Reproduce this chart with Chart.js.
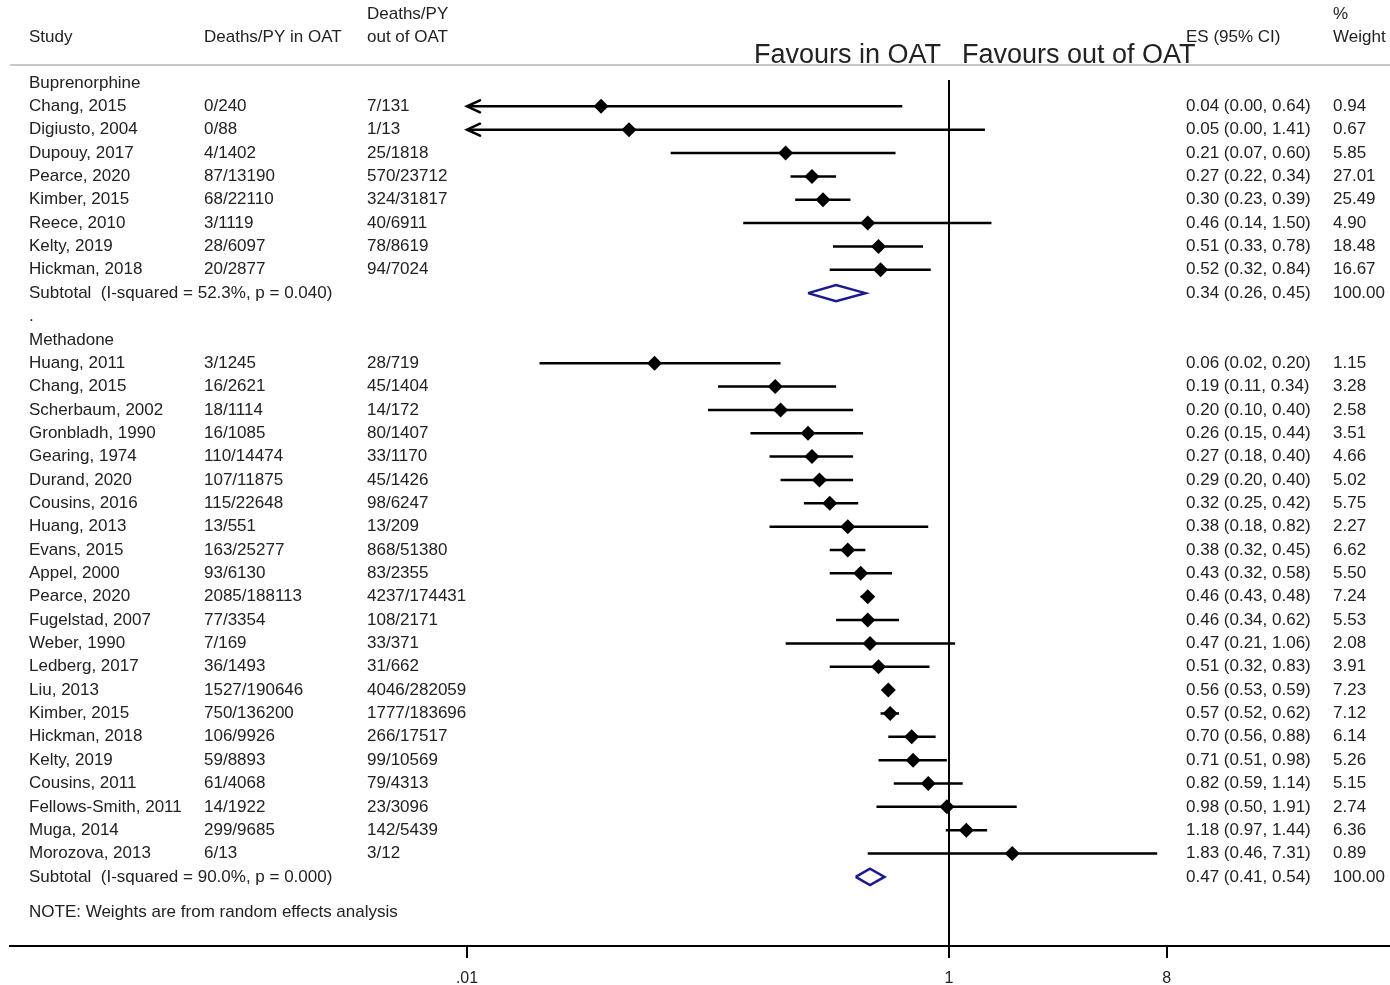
<!DOCTYPE html>
<html lang="en">
<head>
    <meta charset="UTF-8">
    <title>Forest plot - deaths in and out of OAT</title>
    <script src="https://cdn.jsdelivr.net/npm/chart.js"></script>
    <style>
        body { margin: 0; background: #fff; }
        canvas { display: block; }
    </style>
</head>
<body>
    <canvas id="forestChart" width="1390" height="985"></canvas>

    <script>
        // Buprenorphine studies
        const bupStudy = ["Chang, 2015", "Digiusto, 2004", "Dupouy, 2017", "Pearce, 2020", "Kimber, 2015", "Reece, 2010", "Kelty, 2019", "Hickman, 2018"];
        const bupInOAT = ["0/240", "0/88", "4/1402", "87/13190", "68/22110", "3/1119", "28/6097", "20/2877"];
        const bupOutOAT = ["7/131", "1/13", "25/1818", "570/23712", "324/31817", "40/6911", "78/8619", "94/7024"];
        const bupES = [0.036, 0.047, 0.21, 0.27, 0.30, 0.46, 0.51, 0.52];
        const bupLo = [0.00, 0.00, 0.07, 0.22, 0.23, 0.14, 0.33, 0.32];
        const bupHi = [0.64, 1.41, 0.60, 0.34, 0.39, 1.50, 0.78, 0.84];
        const bupWeight = [0.94, 0.67, 5.85, 27.01, 25.49, 4.90, 18.48, 16.67];
        const bupSubLabel = "Subtotal  (I-squared = 52.3%, p = 0.040)";
        const bupSub = [0.34, 0.26, 0.45];   // ES, lower, upper

        // Methadone studies
        const metStudy = ["Huang, 2011", "Chang, 2015", "Scherbaum, 2002", "Gronbladh, 1990", "Gearing, 1974", "Durand, 2020", "Cousins, 2016", "Huang, 2013", "Evans, 2015", "Appel, 2000", "Pearce, 2020", "Fugelstad, 2007", "Weber, 1990", "Ledberg, 2017", "Liu, 2013", "Kimber, 2015", "Hickman, 2018", "Kelty, 2019", "Cousins, 2011", "Fellows-Smith, 2011", "Muga, 2014", "Morozova, 2013"];
        const metInOAT = ["3/1245", "16/2621", "18/1114", "16/1085", "110/14474", "107/11875", "115/22648", "13/551", "163/25277", "93/6130", "2085/188113", "77/3354", "7/169", "36/1493", "1527/190646", "750/136200", "106/9926", "59/8893", "61/4068", "14/1922", "299/9685", "6/13"];
        const metOutOAT = ["28/719", "45/1404", "14/172", "80/1407", "33/1170", "45/1426", "98/6247", "13/209", "868/51380", "83/2355", "4237/174431", "108/2171", "33/371", "31/662", "4046/282059", "1777/183696", "266/17517", "99/10569", "79/4313", "23/3096", "142/5439", "3/12"];
        const metES = [0.06, 0.19, 0.20, 0.26, 0.27, 0.29, 0.32, 0.38, 0.38, 0.43, 0.46, 0.46, 0.47, 0.51, 0.56, 0.57, 0.70, 0.71, 0.82, 0.98, 1.18, 1.83];
        const metLo = [0.02, 0.11, 0.10, 0.15, 0.18, 0.20, 0.25, 0.18, 0.32, 0.32, 0.43, 0.34, 0.21, 0.32, 0.53, 0.52, 0.56, 0.51, 0.59, 0.50, 0.97, 0.46];
        const metHi = [0.20, 0.34, 0.40, 0.44, 0.40, 0.40, 0.42, 0.82, 0.45, 0.58, 0.48, 0.62, 1.06, 0.83, 0.59, 0.62, 0.88, 0.98, 1.14, 1.91, 1.44, 7.31];
        const metWeight = [1.15, 3.28, 2.58, 3.51, 4.66, 5.02, 5.75, 2.27, 6.62, 5.50, 7.24, 5.53, 2.08, 3.91, 7.23, 7.12, 6.14, 5.26, 5.15, 2.74, 6.36, 0.89];
        const metSubLabel = "Subtotal  (I-squared = 90.0%, p = 0.000)";
        const metSub = [0.47, 0.41, 0.54];

        const noteText = "NOTE: Weights are from random effects analysis";

        // x axis
        const xTicks = [0.01, 1, 8];
        const xTickLabels = [".01", "1", "8"];
        const xClip = 0.01;   // CIs below this end in an arrow

        const FONT = '"Liberation Sans", Arial, sans-serif';
        const TEXT = '#222';
        const NAVY = '#1a1a8c';

        // one entry per row of the plot, top to bottom
        const rows = [];
        let r = 0;
        function addGroup(title, study, inO, outO, es, lo, hi, w, subLabel, sub) {
            rows.push({ kind: 'head', y: r++, name: title });
            study.forEach((s, i) => {
                rows.push({ kind: 'study', y: r++, name: s, inO: inO[i], outO: outO[i], es: es[i], lo: lo[i], hi: hi[i], w: w[i] });
            });
            rows.push({ kind: 'sub', y: r++, name: subLabel, es: sub[0], lo: sub[1], hi: sub[2], w: 100 });
        }
        addGroup("Buprenorphine", bupStudy, bupInOAT, bupOutOAT, bupES, bupLo, bupHi, bupWeight, bupSubLabel, bupSub);
        rows.push({ kind: 'head', y: r++, name: "." });
        addGroup("Methadone", metStudy, metInOAT, metOutOAT, metES, metLo, metHi, metWeight, metSubLabel, metSub);
        const noteRow = r + 0.5;

        const studies = rows.filter(d => d.kind === 'study');
        const subs = rows.filter(d => d.kind === 'sub');

        const datasets = [];
        datasets.push({
            label: 'ES',
            data: studies.map(d => ({ x: d.es, y: d.y })),
            pointStyle: 'rectRot',
            pointRadius: 7.5,
            pointBackgroundColor: '#000',
            pointBorderWidth: 0,
            showLine: false
        });
        studies.forEach(d => {
            datasets.push({
                label: 'CI ' + d.name,
                data: [{ x: Math.max(d.lo, xClip), y: d.y }, { x: d.hi, y: d.y }],
                showLine: true,
                borderColor: '#000',
                borderWidth: 2.5,
                pointRadius: 0
            });
        });
        subs.forEach(d => {
            const h = 0.35;
            datasets.push({
                label: 'Subtotal',
                data: [
                    { x: d.lo, y: d.y }, { x: d.es, y: d.y - h }, { x: d.hi, y: d.y },
                    { x: d.es, y: d.y + h }, { x: d.lo, y: d.y }
                ],
                showLine: true,
                borderColor: NAVY,
                borderWidth: 2.5,
                borderJoinStyle: 'miter',
                pointRadius: 0,
                fill: false
            });
        });

        const tablePlugin = {
            id: 'table',
            beforeDraw(chart) {
                const ctx = chart.ctx;
                ctx.save();
                ctx.fillStyle = '#fff';
                ctx.fillRect(0, 0, chart.width, chart.height);
                ctx.restore();
            },
            beforeDatasetsDraw(chart) {
                const { ctx, chartArea, scales: { x, y } } = chart;
                ctx.save();
                // header rule
                ctx.strokeStyle = '#c8c8c8';
                ctx.lineWidth = 2;
                ctx.beginPath();
                ctx.moveTo(chartArea.left, chartArea.top);
                ctx.lineTo(chartArea.right, chartArea.top);
                ctx.stroke();
                // null line at 1
                const x1 = Math.round(x.getPixelForValue(1));
                ctx.strokeStyle = '#000';
                ctx.lineWidth = 2;
                ctx.beginPath();
                ctx.moveTo(x1, y.getPixelForValue(-0.13));
                ctx.lineTo(x1, chartArea.bottom);
                ctx.stroke();
                ctx.restore();
            },
            afterDatasetsDraw(chart) {
                const { ctx, scales: { x, y } } = chart;
                ctx.save();
                // arrows for truncated CIs
                ctx.strokeStyle = '#000';
                ctx.lineWidth = 2.5;
                ctx.lineCap = 'round';
                studies.filter(d => d.lo < xClip).forEach(d => {
                    const px = x.getPixelForValue(xClip);
                    const py = y.getPixelForValue(d.y);
                    ctx.beginPath();
                    ctx.moveTo(px + 13, py - 6);
                    ctx.lineTo(px, py);
                    ctx.lineTo(px + 13, py + 6);
                    ctx.stroke();
                });
                ctx.restore();
            },
            afterDraw(chart) {
                const { ctx, scales: { x, y } } = chart;
                ctx.save();
                ctx.fillStyle = TEXT;
                ctx.textBaseline = 'middle';
                ctx.textAlign = 'left';
                ctx.font = '17px ' + FONT;

                // column headers
                ctx.fillText("Study", 29, 37);
                ctx.fillText("Deaths/PY in OAT", 204, 37);
                ctx.fillText("Deaths/PY", 367, 14);
                ctx.fillText("out of OAT", 367, 37);
                ctx.fillText("ES (95% CI)", 1186, 37);
                ctx.fillText("%", 1333, 14);
                ctx.fillText("Weight", 1333, 37);

                rows.forEach(d => {
                    const py = y.getPixelForValue(d.y);
                    ctx.fillText(d.name, 29, py);
                    if (d.kind === 'study') {
                        ctx.fillText(d.inO, 204, py);
                        ctx.fillText(d.outO, 367, py);
                    }
                    if (d.kind !== 'head') {
                        ctx.fillText(d.es.toFixed(2) + ' (' + d.lo.toFixed(2) + ', ' + d.hi.toFixed(2) + ')', 1186, py);
                        ctx.fillText(d.w.toFixed(2), 1333, py);
                    }
                });
                ctx.fillText(noteText, 29, y.getPixelForValue(noteRow));

                // favours labels
                const x1 = x.getPixelForValue(1);
                ctx.font = '27px ' + FONT;
                ctx.textBaseline = 'alphabetic';
                ctx.textAlign = 'right';
                ctx.fillText("Favours in OAT", x1 - 8, 63);
                ctx.textAlign = 'left';
                ctx.fillText("Favours out of OAT", x1 + 13, 63);
                ctx.restore();
            }
        };

        // rows are 23.35 px apart, first row 18 px below the header rule
        const rowPx = 23.35;
        const plotTop = 65, plotBottom = 946;
        const firstRowPx = 83;

        new Chart(document.getElementById('forestChart'), {
            type: 'scatter',
            data: { datasets: datasets },
            options: {
                responsive: false,
                animation: false,
                devicePixelRatio: 1,
                layout: { autoPadding: false, padding: { left: 10, right: 0, top: plotTop, bottom: 0 } },
                plugins: {
                    legend: { display: false },
                    tooltip: { enabled: false }
                },
                scales: {
                    x: {
                        type: 'logarithmic',
                        min: Math.pow(10, (10 - 949) / 241),
                        max: Math.pow(10, (1390 - 949) / 241),
                        afterBuildTicks: scale => { scale.ticks = xTicks.map(v => ({ value: v })); },
                        afterFit: scale => { scale.height = 985 - plotBottom; },
                        grid: {
                            display: true,
                            drawOnChartArea: false,
                            drawTicks: true,
                            tickLength: 12,
                            color: '#000',
                            lineWidth: 2
                        },
                        border: { display: true, color: '#000', width: 2 },
                        ticks: {
                            autoSkip: false,
                            maxRotation: 0,
                            padding: 11,
                            color: TEXT,
                            font: { family: FONT, size: 16 },
                            callback: (v, i) => xTickLabels[i]
                        }
                    },
                    y: {
                        type: 'linear',
                        display: false,
                        reverse: true,
                        min: -(firstRowPx - plotTop) / rowPx,
                        max: (plotBottom - firstRowPx) / rowPx
                    }
                }
            },
            plugins: [tablePlugin]
        });
    </script>
</body>
</html>
